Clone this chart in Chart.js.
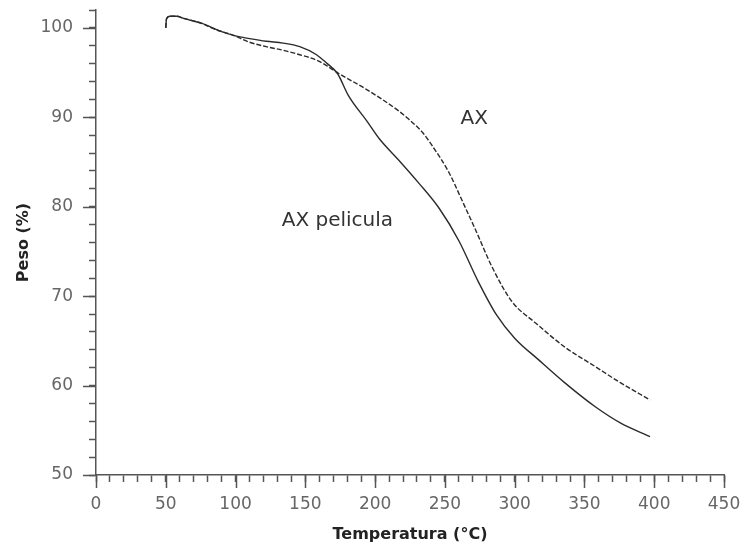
<!DOCTYPE html>
<html>
<head>
<meta charset="utf-8">
<script src="https://cdn.jsdelivr.net/npm/chart.js@4/dist/chart.umd.min.js"></script>
<style>
  html, body { margin: 0; padding: 0; background: #fff; }
  #wrap { width: 740px; height: 546px; }
</style>
</head>
<body>
<div id="wrap"><canvas id="tga"></canvas></div>
<script>
"use strict";

// ── Data ──────────────────────────────────────────────────
const axTemps   = [50, 50.5, 53, 58, 62, 74, 86, 98, 110, 122, 134, 146, 158, 167, 174, 194, 217, 224, 234, 241, 253, 262, 272, 284, 298, 315, 336, 358, 376, 397];
const axWeight  = [100, 101.0, 101.3, 101.3, 101.1, 100.6, 99.8, 99.2, 98.4, 97.9, 97.5, 97.0, 96.4, 95.6, 94.9, 93.1, 90.7, 89.8, 88.3, 86.8, 83.8, 80.8, 77.4, 73.2, 69.4, 67.0, 64.3, 62.1, 60.3, 58.4];

const pelTemps  = [50, 50.5, 53, 58, 64, 76, 88, 100, 110, 122, 134, 146, 158, 165, 173, 181, 194, 203, 217, 231, 246, 260, 274, 287, 300, 317, 336, 358, 376, 397];
const pelWeight = [100, 101.0, 101.3, 101.3, 101.0, 100.5, 99.7, 99.1, 98.8, 98.5, 98.3, 97.9, 97.0, 96.1, 94.9, 92.4, 89.6, 87.6, 85.2, 82.7, 79.8, 76.2, 71.6, 67.9, 65.3, 62.9, 60.3, 57.6, 55.8, 54.3];

const xMajorTicks = [0, 50, 100, 150, 200, 250, 300, 350, 400, 450];
const yMajorTicks = [50, 60, 70, 80, 90, 100];

// curve labels, placed in data units
const curveLabels = [
  { text: "AX",          x: 271, y: 89.8 },
  { text: "AX pelicula", x: 173, y: 78.4 },
];

const ink   = "#2b2b2b";
const axisC = "#555";

const toPoints = (xs, ys) => xs.map((x, i) => ({ x, y: ys[i] }));

// ── Plugin: longer major ticks + curve labels ─────────────
const extras = {
  id: "extras",
  afterDraw(chart) {
    const { ctx, chartArea } = chart;
    const xs = chart.scales.x, ys = chart.scales.y;
    ctx.save();
    ctx.strokeStyle = axisC;
    ctx.lineWidth = 1.5;
    ctx.beginPath();
    xMajorTicks.forEach((v) => {
      const px = Math.round(xs.getPixelForValue(v)) + 0.5;
      ctx.moveTo(px, chartArea.bottom);
      ctx.lineTo(px, chartArea.bottom + 13);
    });
    yMajorTicks.forEach((v) => {
      const py = Math.round(ys.getPixelForValue(v)) + 0.5;
      ctx.moveTo(chartArea.left, py);
      ctx.lineTo(chartArea.left - 13, py);
    });
    ctx.stroke();

    ctx.fillStyle = "#333";
    ctx.font = "20px 'DejaVu Sans', sans-serif";
    ctx.textAlign = "center";
    ctx.textBaseline = "middle";
    curveLabels.forEach((l) => {
      ctx.fillText(l.text, xs.getPixelForValue(l.x), ys.getPixelForValue(l.y));
    });
    ctx.restore();
  },
};

const tickFont  = { family: "'DejaVu Sans', sans-serif", size: 17 };
const titleFont = { family: "'DejaVu Sans', sans-serif", size: 16, weight: "bold" };

new Chart(document.getElementById("tga"), {
  type: "line",
  data: {
    datasets: [
      {
        label: "AX",
        data: toPoints(axTemps, axWeight),
        borderColor: ink,
        borderWidth: 1.4,
        borderDash: [5, 2],
        pointRadius: 0,
        cubicInterpolationMode: "monotone",
        fill: false,
      },
      {
        label: "AX pelicula",
        data: toPoints(pelTemps, pelWeight),
        borderColor: ink,
        borderWidth: 1.4,
        pointRadius: 0,
        cubicInterpolationMode: "monotone",
        fill: false,
      },
    ],
  },
  options: {
    responsive: true,
    maintainAspectRatio: false,
    animation: false,
    layout: { padding: { top: 10, right: 16, left: 0, bottom: 0 } },
    plugins: {
      legend: { display: false },
      tooltip: { enabled: false },
    },
    scales: {
      x: {
        type: "linear",
        min: 0,
        max: 450,
        afterFit: (s) => { s.height = 71; s.paddingLeft = 0; s.paddingRight = 0; },
        border: { display: true, color: axisC, width: 1.5 },
        grid: { display: true, drawOnChartArea: false, drawTicks: true, tickLength: 7, tickColor: axisC, tickWidth: 1.5 },
        ticks: {
          stepSize: 10,
          autoSkip: false,
          maxRotation: 0,
          padding: 12,
          color: "#666",
          font: tickFont,
          callback: (v) => (v % 50 === 0 ? v : ""),
        },
        title: { display: true, text: "Temperatura (°C)", color: "#222", font: titleFont, padding: { top: 0, bottom: 2 } },
      },
      y: {
        min: 50,
        max: 102,
        afterFit: (s) => { s.width = 96; s.paddingTop = 0; s.paddingBottom = 0; },
        border: { display: true, color: axisC, width: 1.5 },
        grid: { display: true, drawOnChartArea: false, drawTicks: true, tickLength: 7, tickColor: axisC, tickWidth: 1.5 },
        ticks: {
          stepSize: 2,
          autoSkip: false,
          padding: 16,
          color: "#666",
          font: tickFont,
          callback: (v) => (v % 10 === 0 ? v : ""),
        },
        title: { display: true, text: "Peso (%)", color: "#222", font: titleFont, padding: { top: 14, bottom: 0 } },
      },
    },
  },
  plugins: [extras],
});
</script>
</body>
</html>
